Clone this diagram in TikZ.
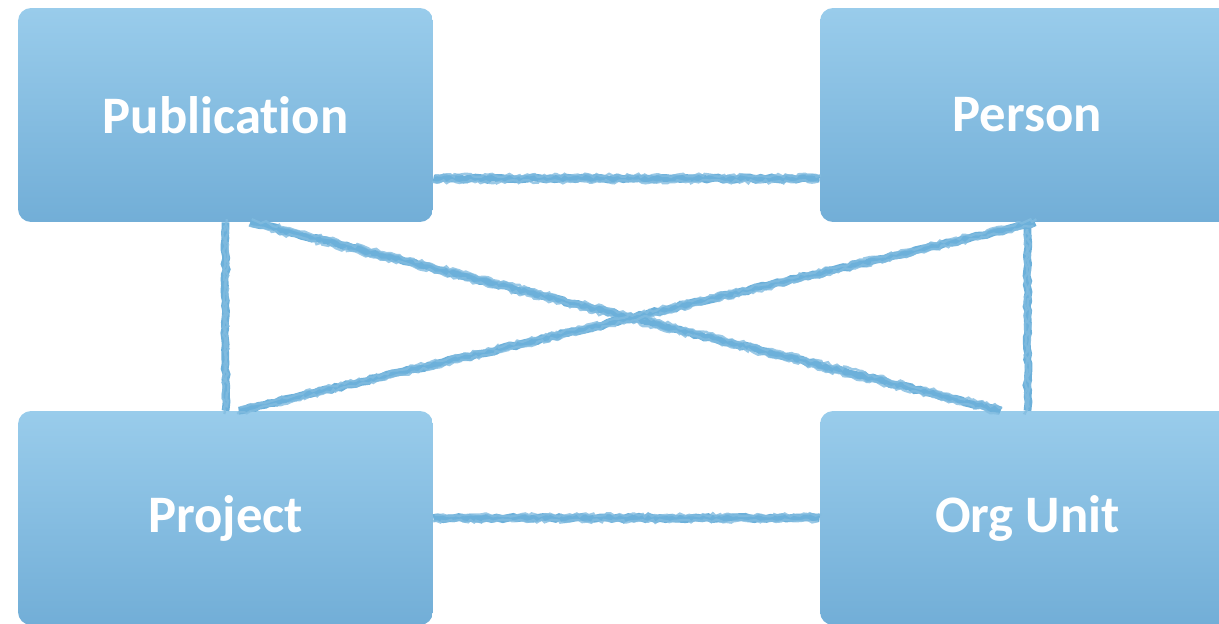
\documentclass[tikz,border=0pt]{standalone}
\usepackage{fontspec}
\setmainfont[Ligatures={NoCommon}]{Carlito}
\usetikzlibrary{decorations.pathmorphing}
\definecolor{boxtop}{RGB}{153,204,235}
\definecolor{boxbot}{RGB}{114,174,215}
\definecolor{linkblue}{RGB}{108,176,218}
\tikzset{
    entity/.style = {rectangle, rounded corners=0.26cm, top color=boxtop, bottom color=boxbot, draw=none,
                     minimum width=8.3cm, minimum height=4.28cm, inner sep=0pt, text=white,
                     font=\fontsize{30}{35}\selectfont\bfseries},
    link/.style = {draw=linkblue, line width=4.4pt, line cap=butt, decorate,
                   decoration={random steps, segment length=3pt, amplitude=0.7pt}},
    linkthin/.style = {draw=linkblue!85!white, line width=1.3pt, opacity=0.8, decorate,
                   decoration={random steps, segment length=2pt, amplitude=1pt}}
}
\begin{document}
\begin{tikzpicture}[x=0.02cm, y=-0.02cm]
    \useasboundingbox (0,0) rectangle (1219,623);

    \node [entity] (pub) at (225.5,115)  {Publication};
    \node [entity] (per) at (1027.5,115) {Person};
    \node [entity] (prj) at (225.5,518)  {Project};
    \node [entity] (org) at (1027.5,518) {Org Unit};

    % hand drawn connectors
    \foreach \a/\b in {pub.-17/per.197, prj.east/org.west, pub.south/prj.north,
                       per.south/org.north, pub.-77/org.104, prj.83/per.-86} {
        \path [link] (\a) -- (\b);
        \path [linkthin, transform canvas={yshift=1.8pt, xshift=0.8pt}] (\a) -- (\b);
        \path [linkthin, transform canvas={yshift=-1.8pt, xshift=-0.8pt}] (\a) -- (\b);
    }
\end{tikzpicture}
\end{document}
